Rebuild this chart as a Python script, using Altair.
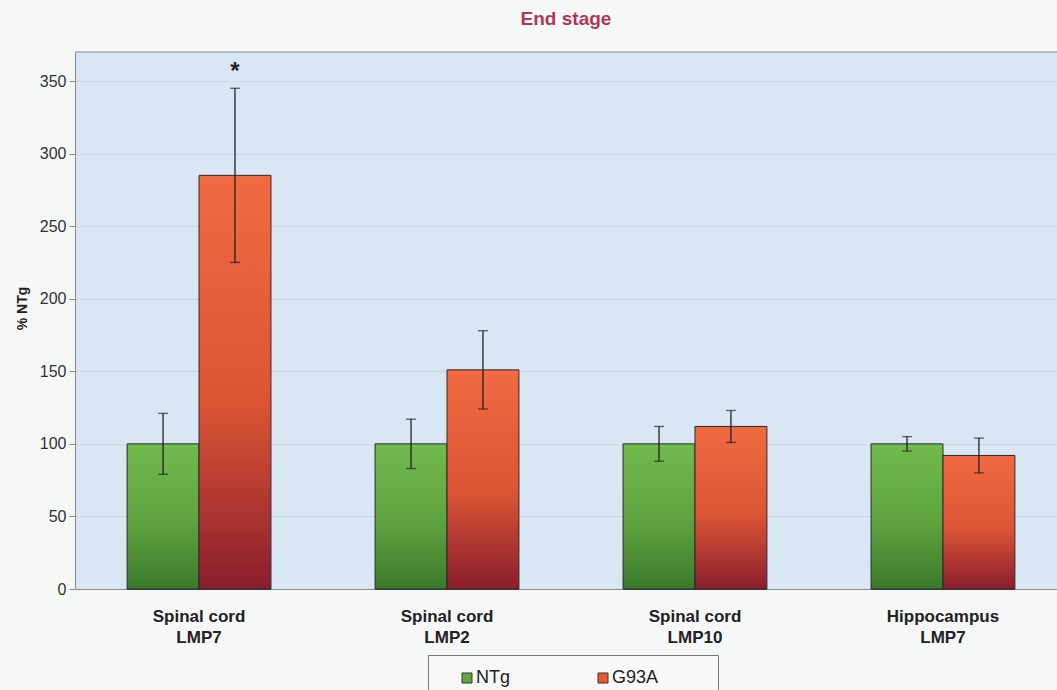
import altair as alt
import pandas as pd

# Proteasome subunit expression at end stage, as % of non-transgenic (NTg)
categories = ["Spinal cord|LMP7", "Spinal cord|LMP2", "Spinal cord|LMP10", "Hippocampus|LMP7"]
groups = ["NTg", "G93A"]
ntg_mean = [100, 100, 100, 100]
ntg_err = [21, 17, 12, 5]
g93a_mean = [285, 151, 112, 92]
g93a_err = [60, 27, 11, 12]
g93a_sig = ["*", "", "", ""]

rows = []
for i, region in enumerate(categories):
    rows.append(dict(region=region, group="NTg", mean=ntg_mean[i],
                     lo=ntg_mean[i] - ntg_err[i], hi=ntg_mean[i] + ntg_err[i], sig=""))
    rows.append(dict(region=region, group="G93A", mean=g93a_mean[i],
                     lo=g93a_mean[i] - g93a_err[i], hi=g93a_mean[i] + g93a_err[i], sig=g93a_sig[i]))
df = pd.DataFrame(rows)

FONT = "Liberation Sans"
W, H = 982, 537
AXIS_GREY = "#8a8a8a"

green_fill = alt.Gradient(
    gradient="linear", x1=0, x2=0, y1=0, y2=1,
    stops=[alt.GradientStop(color="#72bb4e", offset=0),
           alt.GradientStop(color="#5da23f", offset=0.55),
           alt.GradientStop(color="#3c7a2c", offset=1)],
)
red_fill = alt.Gradient(
    gradient="linear", x1=0, x2=0, y1=0, y2=1,
    stops=[alt.GradientStop(color="#f06a42", offset=0),
           alt.GradientStop(color="#db5534", offset=0.55),
           alt.GradientStop(color="#8a1e2e", offset=1)],
)

x_enc = alt.X(
    "region:N", sort=categories, title=None,
    scale=alt.Scale(domain=categories, paddingInner=0.42, paddingOuter=0.19, align=0.553),
    axis=alt.Axis(labelExpr="split(datum.label, '|')", labelAngle=0, labelFont=FONT,
                  labelFontWeight="bold", labelFontSize=17, labelColor="#222222",
                  labelLineHeight=21, labelPadding=19, labelBaseline="top",
                  ticks=False, domainColor=AXIS_GREY, domainWidth=1, grid=False),
)
xoff_enc = alt.XOffset("group:N", sort=groups,
                       scale=alt.Scale(domain=groups, paddingInner=0, paddingOuter=0))
y_scale = alt.Scale(domain=[0, 370], nice=False, zero=True)
y_enc = alt.Y(
    "mean:Q", scale=y_scale,
    axis=alt.Axis(values=list(range(0, 351, 50)), title="% NTg", titleFont=FONT,
                  titleFontWeight="bold", titleFontSize=14, titleColor="#222222",
                  titleAngle=270, titleAlign="center", titleBaseline="middle",
                  titleX=-53, titleY=256,
                  labelFont=FONT, labelFontSize=16, labelColor="#333333", labelPadding=3,
                  tickSize=6, tickColor=AXIS_GREY, domainColor=AXIS_GREY,
                  gridColor="#c2ccd8", gridOpacity=0.5, gridWidth=1),
)

base = alt.Chart(df)

# zero-height bars that only carry the legend; the last label keeps some
# trailing room so the legend frame is as wide as the category block
legend_layer = base.mark_bar(stroke="#333333", strokeWidth=1).encode(
    x=x_enc, xOffset=xoff_enc, y=alt.Y("zero:Q", scale=y_scale),
    color=alt.Color("group:N", sort=groups,
                    scale=alt.Scale(domain=groups, range=["#5fa83f", "#e85a36"]),
                    legend=alt.Legend(title=None, orient="none", legendX=353, legendY=603,
                                      direction="horizontal", columns=2, columnPadding=67,
                                      symbolType="square", symbolSize=100,
                                      symbolStrokeColor="#333333", symbolStrokeWidth=1,
                                      symbolOffset=16,
                                      labelExpr="datum.label == 'G93A' ? datum.label + '\u2003\u2003\u2002\u200b' : datum.label",
                                      labelFont=FONT, labelFontSize=18, labelColor="#222222",
                                      labelOffset=0, padding=14, strokeColor="#777777",
                                      fillColor="#f8f8f8")),
).transform_calculate(zero="0")

ntg_bars = base.transform_filter(alt.datum.group == "NTg").mark_bar(
    fill=green_fill, stroke="#2b2b2b", strokeWidth=1
).encode(x=x_enc, xOffset=xoff_enc, y=y_enc)

g93a_bars = base.transform_filter(alt.datum.group == "G93A").mark_bar(
    fill=red_fill, stroke="#2b2b2b", strokeWidth=1
).encode(x=x_enc, xOffset=xoff_enc, y=y_enc)

err_rules = base.mark_rule(color="#222222", strokeWidth=1.3).encode(
    x=x_enc, xOffset=xoff_enc, y=alt.Y("lo:Q", scale=y_scale), y2="hi:Q"
)
cap_lo = base.mark_tick(color="#222222", size=10, thickness=1.3).encode(
    x=x_enc, xOffset=xoff_enc, y=alt.Y("lo:Q", scale=y_scale)
)
cap_hi = base.mark_tick(color="#222222", size=10, thickness=1.3).encode(
    x=x_enc, xOffset=xoff_enc, y=alt.Y("hi:Q", scale=y_scale)
)
stars = base.mark_text(font=FONT, fontSize=24, fontWeight="bold", color="#222222",
                       baseline="middle", dy=-16).encode(
    x=x_enc, xOffset=xoff_enc, y=alt.Y("hi:Q", scale=y_scale), text="sig:N"
)

top_border = alt.Chart(pd.DataFrame({"k": [0]})).mark_rule(
    color=AXIS_GREY, strokeWidth=1
).encode(x=alt.value(0), x2=alt.value(W), y=alt.value(0))

chart = alt.layer(
    legend_layer, ntg_bars, g93a_bars, err_rules, cap_lo, cap_hi, stars, top_border
).properties(
    width=W, height=H,
    title=alt.TitleParams("End stage", font=FONT, fontSize=19, fontWeight="bold",
                          color="#b0375a", anchor="middle", baseline="alphabetic", offset=8),
    autosize=alt.AutoSizeParams(type="none"),
    padding={"left": 75, "top": 52, "right": 0, "bottom": 101},
    background="#f6f7f7",
).configure_view(
    fill="#d9e6f4", stroke=None
)

chart.save("out.html", embed_options={"renderer": "svg", "actions": False})
